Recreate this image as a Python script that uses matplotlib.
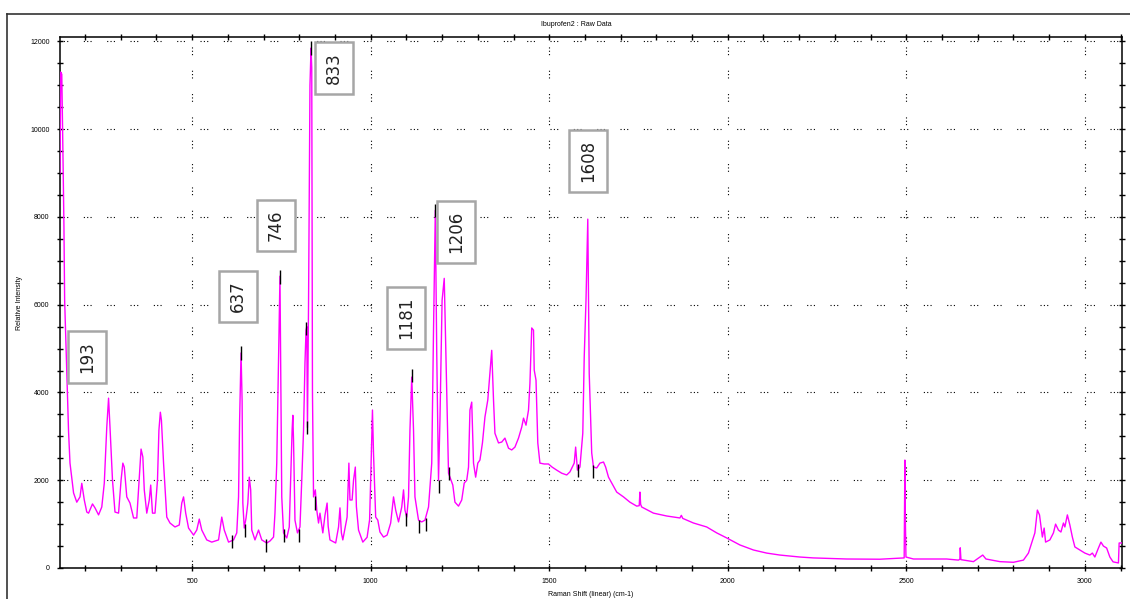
import matplotlib
matplotlib.use("Agg")
import matplotlib.pyplot as plt
from matplotlib.lines import Line2D
from matplotlib.ticker import MultipleLocator

# Raman shift (cm-1) and relative intensity
shift = [130, 132, 135, 137, 139, 141, 143, 147, 150, 154, 158, 168, 177, 186, 191,
         198, 205, 210, 221, 228, 238, 247, 254, 261, 266, 270, 277, 284, 294, 301,
         306, 310, 317, 326, 336, 345, 352, 357, 362, 366, 373, 380, 384, 389, 396,
         403, 407, 411, 414, 420, 429, 438, 452, 464, 471, 476, 482, 490, 504, 513,
         520, 527, 541, 555, 574, 583, 590, 602, 616, 625, 630, 633, 637, 640, 642,
         646, 651, 656, 660, 664, 667, 676, 686, 695, 709, 718, 728, 732, 737, 741,
         746, 748, 751, 756, 765, 772, 776, 780, 782, 784, 788, 795, 802, 807, 812,
         816, 819, 821, 823, 826, 830, 833, 835, 837, 840, 845, 849, 854, 858, 866,
         872, 878, 881, 886, 902, 910, 914, 918, 922, 934, 939, 942, 948, 952, 957,
         960, 966, 978, 990, 997, 1000, 1005, 1008, 1014, 1020, 1026, 1036, 1046, 1056, 1064,
         1070, 1078, 1087, 1092, 1096, 1101, 1106, 1110, 1115, 1120, 1124, 1134, 1143, 1152, 1162,
         1171, 1176, 1181, 1185, 1190, 1194, 1200, 1206, 1213, 1218, 1230, 1236, 1246, 1255, 1262,
         1269, 1274, 1278, 1283, 1288, 1294, 1300, 1306, 1313, 1320, 1328, 1334, 1339, 1344, 1348,
         1358, 1367, 1376, 1386, 1395, 1404, 1414, 1423, 1428, 1435, 1442, 1446, 1451, 1456, 1458,
         1463, 1468, 1474, 1486, 1498, 1508, 1521, 1535, 1549, 1558, 1570, 1574, 1579, 1586, 1594,
         1598, 1603, 1608, 1612, 1619, 1624, 1633, 1642, 1652, 1658, 1666, 1675, 1689, 1708, 1726,
         1745, 1752, 1754, 1756, 1759, 1792, 1829, 1866, 1870, 1874, 1904, 1941, 1969, 1997, 2034,
         2072, 2109, 2146, 2202, 2239, 2333, 2426, 2492, 2494, 2496, 2497, 2499, 2520, 2613, 2646,
         2650, 2651, 2653, 2688, 2714, 2723, 2762, 2800, 2828, 2842, 2851, 2860, 2867, 2873, 2881,
         2886, 2890, 2902, 2912, 2918, 2926, 2933, 2940, 2944, 2951, 2958, 2965, 2972, 2986, 3000,
         3014, 3021, 3028, 3038, 3045, 3052, 3061, 3070, 3079, 3094, 3096, 3101, 3104]
intensity = [9000, 11300, 11250, 10200, 9000, 7800, 6100, 5000, 4100, 3100, 2390, 1710, 1500, 1620, 1930,
             1550, 1275, 1250, 1460, 1370, 1210, 1390, 1930, 3210, 3870, 3210, 2000, 1275, 1250, 2000,
             2390, 2300, 1620, 1480, 1140, 1140, 2070, 2710, 2530, 1780, 1250, 1550, 1890, 1250, 1250,
             2000, 3140, 3550, 3370, 2390, 1160, 1025, 935, 980, 1480, 1620, 1250, 910, 750, 865,
             1115, 865, 640, 590, 640, 1160, 865, 590, 640, 800, 1620, 3370, 4900, 3800, 1480,
             910, 1140, 1480, 2070, 1780, 865, 640, 865, 640, 570, 615, 705, 1250, 2390, 4280,
             6650, 4650, 1620, 800, 685, 935, 2000, 3140, 3480, 2900, 1090, 800, 935, 2000, 3140,
             4670, 5420, 5500, 3200, 6000, 11000, 11850, 11400, 4000, 1620, 1780, 1320, 1025, 1250, 800,
             1200, 1480, 950, 640, 570, 935, 1370, 800, 640, 1160, 2390, 1550, 1550, 2000, 2300,
             1400, 865, 590, 700, 1100, 2000, 3600, 2600, 1160, 1090, 820, 705, 750, 1025, 1620,
             1320, 1050, 1390, 1780, 1320, 1160, 1620, 3140, 4350, 3140, 1620, 1090, 1050, 1090, 1390,
             2390, 5420, 8150, 4900, 2000, 3370, 6100, 6600, 4050, 2160, 1890, 1500, 1410, 1550, 1935,
             2000, 2300, 3600, 3780, 2390, 2070, 2390, 2460, 2850, 3440, 3830, 4440, 4960, 3830, 3070,
             2850, 2870, 2960, 2730, 2690, 2755, 2960, 3210, 3415, 3255, 3600, 4210, 5470, 5420, 4510,
             4280, 2850, 2390, 2370, 2370, 2300, 2230, 2160, 2120, 2190, 2390, 2755, 2230, 2300, 3070,
             4800, 6100, 7950, 4440, 2620, 2300, 2280, 2390, 2415, 2300, 2070, 1935, 1730, 1620, 1500,
             1410, 1420, 1730, 1450, 1390, 1250, 1185, 1140, 1200, 1130, 1025, 935, 800, 685, 525,
             410, 340, 295, 250, 230, 205, 200, 230, 230, 2460, 1300, 250, 205, 205, 180,
             200, 460, 190, 145, 295, 205, 145, 130, 180, 340, 570, 800, 1320, 1210, 705,
             910, 590, 640, 800, 1000, 865, 820, 1025, 935, 1210, 980, 705, 480, 410, 340,
             295, 340, 250, 455, 590, 500, 455, 250, 140, 115, 570, 570, 570]

# peak-pick markers (short black ticks on the trace)
mark_x = [613, 637, 648, 706, 746, 758, 798, 820, 823, 833, 844,
          1099, 1115, 1134, 1154, 1181, 1192, 1218, 1580, 1623]
mark_y = [600, 4900, 850, 520, 6630, 750, 750, 5450, 3200, 11850, 1480,
          1100, 4380, 950, 1000, 8150, 1850, 2160, 2230, 2200]

# labelled peaks: text and box centre
peak_labels = ["193", "637", "746", "833", "1181", "1206", "1608"]
label_x = [206, 629, 735, 898, 1099, 1239, 1609]
label_y = [4800, 6190, 7810, 11400, 5690, 7650, 9270]

plt.rcParams['font.family'] = ['Liberation Sans', 'DejaVu Sans']

fig = plt.figure(figsize=(11.3, 5.99), dpi=100)
ax = fig.add_axes([60 / 1130, 31 / 599, 1062 / 1130, 531 / 599])

ax.plot(shift, intensity, color='#ff00ff', lw=1.0, zorder=3)
half = 150
ax.vlines(mark_x, [y - half for y in mark_y], [y + half for y in mark_y],
          color='black', lw=1.0, zorder=4)

ax.set_xlim(130, 3104)
ax.set_ylim(0, 12100)
ax.xaxis.set_major_locator(MultipleLocator(500))
ax.xaxis.set_minor_locator(MultipleLocator(100))
ax.yaxis.set_major_locator(MultipleLocator(2000))
ax.yaxis.set_minor_locator(MultipleLocator(500))

ax.tick_params(which='both', direction='inout', top=True, right=True,
               width=1.0, color='black')
ax.tick_params(which='major', length=5, labelsize=5, pad=5)
ax.tick_params(which='minor', length=4)

for sp in ax.spines.values():
    sp.set_linewidth(1.1)

ax.grid(True, which='major', color='black', lw=0.8,
        linestyle=(0, (1, 2, 1, 2, 1, 14)))

ax.set_xlabel("Raman Shift (linear) (cm-1)", fontsize=5, labelpad=4)
ax.set_ylabel("Relative Intensity", fontsize=5, labelpad=5)
fig.text(576 / 1130, 1 - 25 / 599, "Ibuprofen2 : Raw Data",
         fontsize=5, ha='center', va='center')

for txt, x, y in zip(peak_labels, label_x, label_y):
    ax.text(x, y, txt, rotation=90, ha='center', va='center', fontsize=12,
            color='#222222', family='DejaVu Sans', zorder=5,
            bbox=dict(boxstyle='square,pad=0.6', fc='white',
                      ec='#a6a6a6', lw=1.8))

# outer frame of the original window
fig.add_artist(Line2D([7 / 1130, 1.0], [1 - 14 / 599, 1 - 14 / 599],
                      transform=fig.transFigure, color='#333333', lw=1.2))
fig.add_artist(Line2D([7 / 1130, 7 / 1130], [0.0, 1 - 14 / 599],
                      transform=fig.transFigure, color='#333333', lw=1.2))

fig.savefig("out.png", dpi=100)
